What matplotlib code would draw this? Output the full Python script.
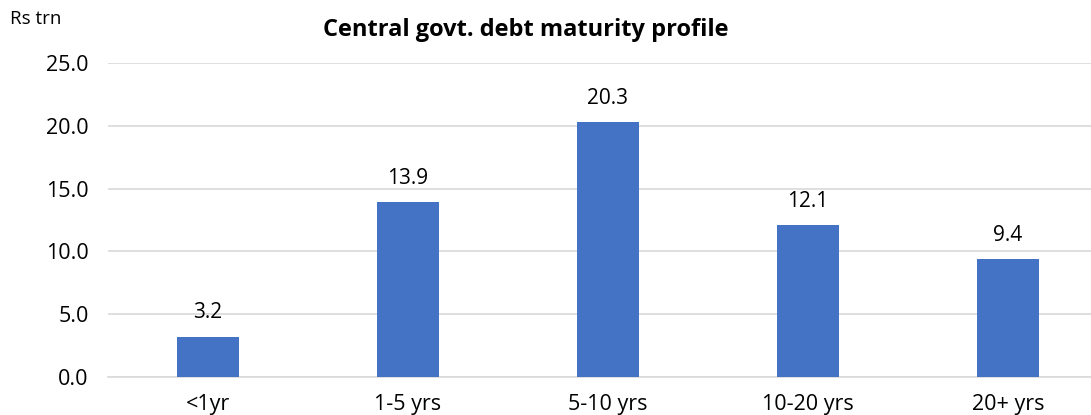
import matplotlib.pyplot as plt
import numpy as np

categories = ["<1yr", "1-5 yrs", "5-10 yrs", "10-20 yrs", "20+ yrs"]
values = [3.2, 13.9, 20.3, 12.1, 9.4]
yticks = [0, 5, 10, 15, 20, 25]

plt.rcParams['font.family'] = ['Open Sans', 'DejaVu Sans']

fig = plt.figure(figsize=(10.91, 4.15), dpi=100)
ax = fig.add_axes([108 / 1091, 1 - 377 / 415, 1000 / 1091, (377 - 63) / 415])

x = np.arange(len(categories))
ax.bar(x, values, width=0.31, color="#4472C4", zorder=3)

# value labels above each bar
for xi, v in zip(x, values):
    ax.text(xi, v + 1.9, f"{v:.1f}", ha="center", va="center", fontsize=15, color="#000000")

ax.set_xlim(-0.5, 4.5)
ax.set_ylim(0, 25)
ax.set_yticks(yticks)
ax.set_yticklabels([f"{t:.1f}" for t in yticks])
ax.set_xticks(x)
ax.set_xticklabels(categories)
ax.tick_params(axis="both", length=0, labelsize=15.5, colors="#000000")
ax.tick_params(axis="y", pad=14)
ax.tick_params(axis="x", pad=12)

ax.yaxis.grid(True, color="#D9D9D9", linewidth=1.2, zorder=0)
for s in ["top", "right", "left"]:
    ax.spines[s].set_visible(False)
ax.spines["bottom"].set_color("#D9D9D9")
ax.spines["bottom"].set_linewidth(1.2)

fig.text(526 / 1091, 1 - 30 / 415, "Central govt. debt maturity profile",
         ha="center", va="center", fontsize=17, fontweight="bold")
fig.text(10 / 1091, 1 - 19 / 415, "Rs trn", ha="left", va="center", fontsize=13.5)

fig.savefig("out.png", dpi=100)
